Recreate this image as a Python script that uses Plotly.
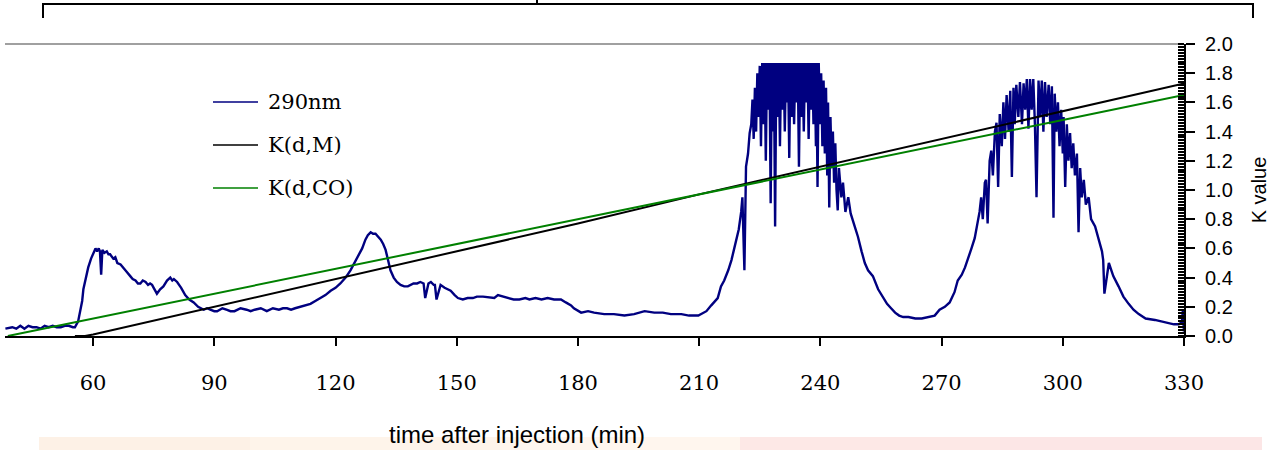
import plotly.graph_objects as go

# ---------------- data ----------------
blue_t = [38.3, 40, 41, 42, 43, 44, 45, 46, 47, 48, 49, 50, 51, 52, 53, 54, 55, 55.5, 56.3, 56.8, 57.3,
          57.6, 58.2, 58.8, 59.5, 60.1, 60.6, 61, 61.4, 61.7, 62, 62.3, 62.8, 63.4, 63.8, 64.2, 65,
          65.5, 66, 66.8, 67.5, 68.3, 69.2, 69.8, 70.5, 71.1, 71.7, 72.3, 73, 73.6, 74.1, 74.6, 75,
          75.8, 76.6, 77.4, 78.3, 79.1, 79.6, 80, 80.8, 81.3, 81.8, 82.8, 83.8, 84.9, 86, 87.4, 88.2,
          89, 90, 90.7, 92, 93, 94, 95, 96.5, 98, 99, 100, 101.5, 103, 104.5, 106, 107, 108, 109,
          110, 111.3, 112.5, 113.8, 115, 116.3, 117.5, 118.8, 120, 121.2, 122.5, 123.7, 124.7, 125.7,
          126.6, 127.4, 128, 128.7, 129.3, 129.9, 130.5, 131.2, 131.8, 132.4, 133, 133.6, 134.4, 135.2,
          136.1, 137, 137.9, 138.6, 139.3, 140.2, 141, 141.8, 142.2, 143, 143.6, 144.3, 144.6, 145,
          146, 147, 148.5, 149.5, 150.3, 151.5, 152.7, 154, 155, 156.5, 158.4, 159.3, 160.2, 161.5,
          162.7, 164.1, 165.5, 167, 168, 169.5, 171, 172.5, 174.1, 175.8, 177, 178.3, 179, 180.8,
          182.5, 184, 186.5, 188.9, 191.5, 193.9, 196.5, 198.9, 201, 203, 205.6, 207.5, 209.8, 210.5,
          211.8, 213, 214.6, 215.4, 216.2, 217.2, 218, 218.6, 219.2, 219.8, 220.4, 220.7, 221.2,
          221.6, 222.1, 222.5, 222.9, 223.2, 223.5, 223.8, 224.1, 224.4, 224.7, 225.0, 225.3, 225.6,
          225.9, 226.2, 226.5, 226.8, 227.1, 227.4, 227.7, 228.0, 228.3, 228.5, 228.8, 229.1, 229.4,
          229.7, 230.0, 230.3, 230.6, 230.9, 231.2, 231.5, 231.8, 232.0, 232.3, 232.6, 232.9, 233.2,
          233.5, 233.8, 234.1, 234.4, 234.7, 235.0, 235.3, 235.6, 235.9, 236.2, 236.5, 236.8, 237.1,
          237.4, 237.7, 238.0, 238.3, 238.6, 238.9, 239.0, 239.3, 239.6, 239.9, 240.2, 240.5, 240.8,
          241.1, 241.4, 241.7, 241.9, 242.2, 242.5, 242.8, 243.1, 243.4, 243.7, 244.0, 244.3, 244.6,
          245.2, 245.6, 246.2, 246.9, 247.5, 248.4, 249.3, 250.2, 251, 251.8, 253, 254.3, 255.5,
          256.5, 257.5, 258.5, 259.5, 260.5, 261.8, 263.5, 265.1, 266.5, 268.3, 269.5, 270.8, 272,
          273.2, 274, 275, 275.8, 276.6, 277.4, 278.2, 278.8, 279.4, 279.8, 280.2, 280.7, 281.0,
          281.4, 281.9, 282.3, 282.7, 283.2, 283.6, 284.0, 284.4, 284.9, 285.3, 285.7, 286.1, 286.6,
          287.0, 287.4, 287.8, 288.1, 288.5, 289.0, 289.4, 289.9, 290.3, 290.7, 291.1, 291.5, 291.9,
          292.3, 292.7, 293.1, 293.5, 294.0, 294.4, 294.8, 295.2, 295.6, 296.0, 296.5, 296.9, 297.3,
          297.7, 298.0, 298.4, 298.8, 299.2, 299.6, 300.0, 300.2, 300.6, 301.0, 301.4, 301.8, 302.2,
          302.6, 303.0, 303.5, 303.9, 304.3, 304.7, 305.2, 305.7, 306.4, 307.0, 308, 308.8, 309.7,
          310, 310.3, 311.4, 312.5, 313.8, 315, 316.3, 317.5, 318.8, 320.5, 322.8, 324.5, 326.3,
          327.5, 328.7, 329.3, 329.5, 329.7, 330]
blue_v = [0.05, 0.06, 0.05, 0.07, 0.05, 0.07, 0.06, 0.06, 0.05, 0.07, 0.06, 0.07, 0.06, 0.06, 0.07,
          0.07, 0.06, 0.06, 0.10, 0.16, 0.24, 0.32, 0.40, 0.47, 0.53, 0.57, 0.60, 0.58, 0.60, 0.58,
          0.42, 0.59, 0.57, 0.58, 0.56, 0.56, 0.53, 0.54, 0.50, 0.49, 0.47, 0.44, 0.41, 0.39, 0.38,
          0.36, 0.36, 0.38, 0.37, 0.35, 0.36, 0.35, 0.33, 0.29, 0.32, 0.34, 0.38, 0.40, 0.38, 0.39,
          0.37, 0.35, 0.33, 0.28, 0.25, 0.23, 0.20, 0.18, 0.19, 0.18, 0.17, 0.17, 0.19, 0.18, 0.17,
          0.17, 0.19, 0.18, 0.17, 0.18, 0.19, 0.17, 0.19, 0.18, 0.19, 0.19, 0.18, 0.19, 0.20, 0.21,
          0.22, 0.24, 0.26, 0.28, 0.31, 0.33, 0.36, 0.40, 0.45, 0.50, 0.55, 0.60, 0.66, 0.69, 0.71,
          0.70, 0.70, 0.68, 0.66, 0.63, 0.59, 0.52, 0.45, 0.40, 0.37, 0.35, 0.34, 0.34, 0.35, 0.36,
          0.36, 0.37, 0.36, 0.26, 0.36, 0.37, 0.35, 0.35, 0.25, 0.35, 0.33, 0.31, 0.28, 0.26, 0.25,
          0.26, 0.26, 0.27, 0.27, 0.26, 0.26, 0.28, 0.27, 0.26, 0.25, 0.25, 0.26, 0.25, 0.26, 0.25,
          0.26, 0.25, 0.25, 0.23, 0.21, 0.19, 0.16, 0.17, 0.16, 0.15, 0.15, 0.14, 0.15, 0.17, 0.16,
          0.16, 0.15, 0.15, 0.14, 0.14, 0.15, 0.17, 0.21, 0.26, 0.34, 0.38, 0.45, 0.52, 0.59, 0.66,
          0.73, 0.85, 0.95, 0.45, 1.16, 1.25, 1.39, 1.45, 1.62, 1.35, 1.70, 1.40, 1.80, 1.50, 1.85,
          1.30, 1.87, 1.45, 1.87, 1.20, 1.87, 1.55, 1.87, 0.91, 1.87, 1.40, 1.87, 0.75, 1.87, 1.50,
          1.87, 1.30, 1.87, 1.55, 1.87, 1.40, 1.87, 1.60, 1.87, 1.22, 1.87, 1.50, 1.87, 1.45, 1.87,
          1.60, 1.87, 1.16, 1.87, 1.50, 1.87, 1.40, 1.87, 1.60, 1.87, 1.35, 1.87, 1.55, 1.87, 1.45,
          1.87, 1.30, 1.87, 1.02, 1.87, 1.45, 1.80, 1.30, 1.75, 1.25, 1.70, 1.10, 1.60, 0.88, 1.50,
          1.15, 1.40, 1.05, 1.32, 1.00, 0.86, 1.15, 0.95, 1.05, 0.85, 0.95, 0.84, 0.76, 0.68, 0.58,
          0.50, 0.45, 0.41, 0.32, 0.27, 0.22, 0.19, 0.16, 0.14, 0.13, 0.13, 0.12, 0.12, 0.13, 0.14,
          0.18, 0.20, 0.23, 0.30, 0.38, 0.42, 0.47, 0.53, 0.60, 0.67, 0.75, 0.85, 0.95, 0.80, 1.05,
          1.07, 0.77, 1.20, 1.27, 1.10, 1.40, 1.46, 1.02, 1.52, 1.30, 1.60, 1.35, 1.65, 1.40, 1.68,
          1.09, 1.70, 1.45, 1.72, 1.50, 1.74, 1.45, 1.73, 1.55, 1.76, 1.42, 1.76, 1.55, 1.76, 1.45,
          0.95, 1.75, 1.50, 1.75, 1.40, 1.74, 1.50, 1.72, 1.45, 1.71, 0.81, 1.66, 1.40, 1.60, 1.30,
          1.55, 1.25, 1.50, 1.02, 1.45, 1.20, 1.39, 1.15, 1.32, 1.10, 1.25, 0.71, 1.15, 0.95, 1.07,
          0.90, 0.95, 0.80, 0.75, 0.66, 0.58, 0.52, 0.29, 0.50, 0.41, 0.34, 0.27, 0.22, 0.18, 0.15,
          0.12, 0.11, 0.10, 0.09, 0.08, 0.08, 0.09, 0.10, 0.17, 0.03, 0.08]

kdm_t = [55.5, 58, 60, 90, 120, 150, 180, 210, 240, 270, 300, 330]
kdm_v = [0.0, 0.0, 0.01, 0.20, 0.39, 0.58, 0.77, 0.97, 1.16, 1.35, 1.54, 1.73]

kdco_t = [38.9, 60, 90, 120, 150, 180, 210, 240, 270, 300, 330]
kdco_v = [0.0, 0.12, 0.29, 0.46, 0.63, 0.80, 0.97, 1.14, 1.31, 1.48, 1.65]

x_ticks = [60, 90, 120, 150, 180, 210, 240, 270, 300, 330]
series_names = ["290nm", "K(d,M)", "K(d,CO)"]
series_colors = ["#000080", "#000000", "#008000"]

# ---------------- layout geometry (screen pixels; body margin removed below) ----------------
W, H = 1287, 450
PL, PR, PT, PB = 5, 1184, 44, 336
SERIF = "DejaVu Serif"
SANS = "Liberation Sans"


def px(xs):
    return (xs - PL) / (PR - PL)


def py(ys):
    return (PB - ys) / (PB - PT)


fig = go.Figure()
fig.add_trace(go.Scatter(x=blue_t, y=blue_v, mode="lines", name=series_names[0],
                         line=dict(color=series_colors[0], width=2.4), showlegend=False))
fig.add_trace(go.Scatter(x=kdm_t, y=kdm_v, mode="lines", name=series_names[1],
                         line=dict(color=series_colors[1], width=2), showlegend=False))
fig.add_trace(go.Scatter(x=kdco_t, y=kdco_v, mode="lines", name=series_names[2],
                         line=dict(color=series_colors[2], width=2), showlegend=False))
# invisible trace to carry the inner-tick overlay axis
fig.add_trace(go.Scatter(x=[], y=[], yaxis="y2", showlegend=False, hoverinfo="skip"))

shapes = []
# gray top line at 2.0
shapes.append(dict(type="line", xref="paper", yref="paper", x0=0, x1=1, y0=1, y1=1,
                   line=dict(color="#808080", width=1.5), layer="below"))
# top bracket
shapes.append(dict(type="path", xref="paper", yref="paper",
                   path=f"M {px(43)} {py(18)} L {px(43)} {py(4)} L {px(1253)} {py(4)} L {px(1253)} {py(18)}",
                   line=dict(color="#000000", width=2)))
shapes.append(dict(type="line", xref="paper", yref="paper", x0=px(537), x1=px(537), y0=py(0), y1=py(4),
                   line=dict(color="#000000", width=2)))
# bottom slide-background band
band = [(39, 250, "#fdf1e6"), (250, 500, "#fef4ea"), (500, 740, "#fff6ee"),
        (740, 1000, "#fde8e6"), (1000, 1262, "#fce6e6")]
for x0, x1, c in band:
    shapes.append(dict(type="rect", xref="paper", yref="paper", x0=px(x0), x1=px(x1),
                       y0=py(450), y1=py(437), fillcolor=c, line=dict(width=0), layer="below"))
# legend sample lines
leg_y = [102, 145, 188]
for yy, c in zip(leg_y, series_colors):
    shapes.append(dict(type="line", xref="paper", yref="paper", x0=px(213), x1=px(258),
                       y0=py(yy), y1=py(yy), line=dict(color=c, width=1.5)))

annotations = []
for yy, name in zip(leg_y, series_names):
    annotations.append(dict(xref="paper", yref="paper", x=px(266), y=py(yy), text=name,
                            showarrow=False, xanchor="left", yanchor="middle",
                            font=dict(family=SERIF, size=21, color="#000000")))
annotations.append(dict(xref="paper", yref="paper", x=px(517), y=py(434),
                        text="time after injection (min)", showarrow=False,
                        xanchor="center", yanchor="middle",
                        font=dict(family=SANS, size=24, color="#000000")))

fig.update_layout(
    width=W, height=H,
    margin=dict(l=PL, r=W - PR, t=PT, b=H - PB, pad=0, autoexpand=False),
    paper_bgcolor="#ffffff", plot_bgcolor="#ffffff",
    showlegend=False,
    shapes=shapes, annotations=annotations,
    xaxis=dict(range=[38.2, 330], tickvals=x_ticks, showgrid=False, zeroline=False,
               showline=True, linecolor="#000000", linewidth=2,
               ticks="outside", ticklen=8, tickwidth=2, tickcolor="#000000",
               ticklabelstandoff=19,
               tickfont=dict(family=SERIF, size=21, color="#000000")),
    yaxis=dict(range=[0, 2.0], side="right", dtick=0.2, tickformat=".1f",
               showgrid=False, zeroline=False, showline=True, linecolor="#000000", linewidth=2,
               ticks="outside", ticklen=9, tickwidth=2, tickcolor="#000000",
               ticklabelstandoff=6,
               tickfont=dict(family=SANS, size=20, color="#000000"),
               minor=dict(dtick=0.02, ticks="inside", ticklen=6, tickwidth=1.5, tickcolor="#000000"),
               title=dict(text="K value", standoff=20,
                          font=dict(family=SANS, size=20, color="#000000"))),
    yaxis2=dict(range=[0, 2.0], overlaying="y", side="right", dtick=0.2,
                showgrid=False, zeroline=False, showline=False, showticklabels=False,
                ticks="inside", ticklen=6, tickwidth=2, tickcolor="#000000"),
)

fig.write_html("out.html", config={"displayModeBar": False},
               post_script="document.body.style.margin='0';document.body.style.overflow='hidden';")
